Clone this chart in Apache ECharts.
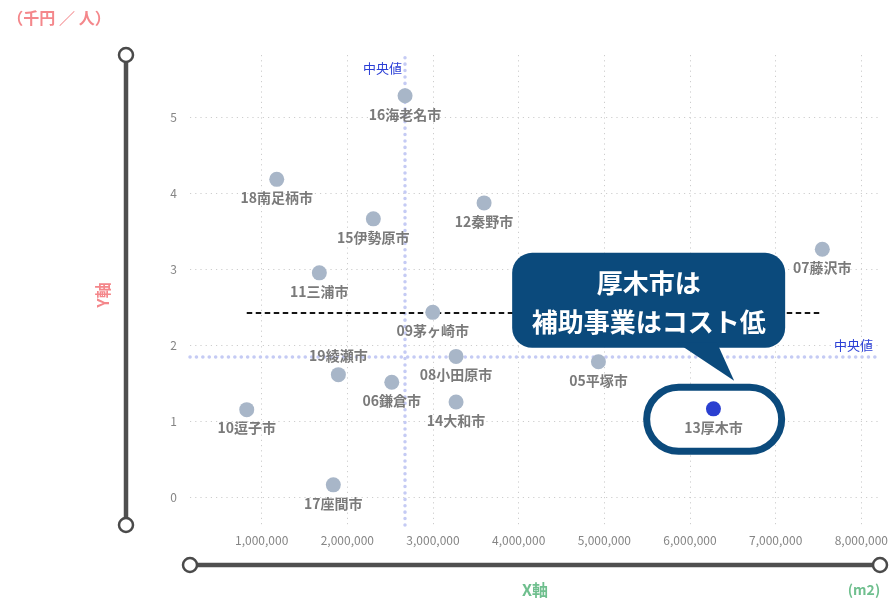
<!DOCTYPE html>
<html><head><meta charset="utf-8">
<script src="https://cdn.jsdelivr.net/npm/echarts@6/dist/echarts.min.js"></script>
<style>html,body{margin:0;padding:0;background:#fff}#c{width:891px;height:599px}</style>
</head><body><div id="c"></div>
<script>
// ---- data ----
const cities  = ['05平塚市','06鎌倉市','07藤沢市','08小田原市','09茅ヶ崎市','10逗子市','11三浦市','12秦野市','13厚木市','14大和市','15伊勢原市','16海老名市','17座間市','18南足柄市','19綾瀬市'];
const xValues = [4928000, 2517000, 7540000, 3267000, 2995000, 825000, 1672000, 3594000, 6270000, 3267000, 2302000, 2672000, 1835000, 1175000, 1894000];
const yValues = [1.78, 1.51, 3.26, 1.85, 2.43, 1.15, 2.95, 3.87, 1.16, 1.25, 3.66, 5.28, 0.16, 4.18, 1.61];
const labelAbove = ['19綾瀬市'];
const highlightCity = '13厚木市';
const medianX = 2672000;
const medianY = 1.85;
const referenceY = 2.42;
const xRange = [163000, 8213000];
const yRange = [-0.368, 5.816];
const xTickRange = [0, 8000000, 1000000];
const yTickRange = [0, 5, 1];
const medianLabel = '中央値';
const calloutText = '厚木市は\n補助事業はコスト低';
const yUnit = '（千円 ／ 人）';
const xUnit = '(m2)';
const xName = 'X軸';
const yName = 'Y軸';

const FONT = '"Noto Sans CJK JP", "Noto Sans", sans-serif';
const pointData = cities.map((c, i) => ({
  name: c,
  value: [xValues[i], yValues[i]],
  itemStyle: { color: c === highlightCity ? '#2a3fd0' : '#a8b6c8', opacity: 1 },
  label: labelAbove.includes(c) ? { position: 'top' } : undefined
}));
const refData = [[Math.min(...xValues), referenceY], [Math.max(...xValues), referenceY]];

const chart = echarts.init(document.getElementById('c'), null, { renderer: 'canvas' });
const dotted = { color: '#cdcdcd', width: 1, type: [1.2, 4] };

chart.setOption({
  animation: false,
  textStyle: { fontFamily: FONT },
  grid: [
    { left: 190, right: 11, top: 55, bottom: 74 },   // data grid
    { left: 176, right: 29, top: 55, bottom: 74 },   // x ticks / vertical grid
    { left: 190, right: 11, top: 117, bottom: 102 }  // y ticks / horizontal grid
  ],
  xAxis: [
    { gridIndex: 0, type: 'value', min: xRange[0], max: xRange[1], show: false },
    { gridIndex: 1, type: 'value', min: xTickRange[0], max: xTickRange[1], interval: xTickRange[2],
      axisLine: { show: false }, axisTick: { show: false },
      splitLine: { show: true, showMinLine: false, showMaxLine: true, lineStyle: dotted },
      axisLabel: { color: '#858585', fontSize: 12, margin: 9, showMinLabel: false, showMaxLabel: true,
        formatter: v => v === 0 ? '' : v.toLocaleString('en-US') } },
    { gridIndex: 2, type: 'value', show: false }
  ],
  yAxis: [
    { gridIndex: 0, type: 'value', min: yRange[0], max: yRange[1], show: false },
    { gridIndex: 1, type: 'value', show: false },
    { gridIndex: 2, type: 'value', min: yTickRange[0], max: yTickRange[1], interval: yTickRange[2],
      axisLine: { show: false }, axisTick: { show: false },
      splitLine: { show: true, lineStyle: dotted },
      axisLabel: { color: '#858585', fontSize: 12, margin: 13 } }
  ],
  series: [
    {
      type: 'line', xAxisIndex: 0, yAxisIndex: 0, data: refData, symbol: 'none', silent: true,
      lineStyle: { color: '#151515', width: 2, type: [5.5, 3.5] }, z: 2,
      markLine: {
        z: 2, silent: true, symbol: 'none', animation: false,
        label: { show: false },
        lineStyle: { color: '#c5cbf4', width: 3.5, type: [0.1, 6.3], cap: 'round' },
        data: [{ xAxis: medianX }, { yAxis: medianY }]
      },
      markPoint: {
        z: 2, silent: true, symbol: 'circle', symbolSize: 0,
        data: [
          { coord: [medianX, yRange[1]], label: { show: true, formatter: medianLabel, position: 'left', distance: 3, offset: [0, 13], color: '#2b3fd6', fontSize: 13 } },
          { coord: [xRange[1], medianY], label: { show: true, formatter: medianLabel, position: 'left', distance: 7, offset: [0, -11], color: '#2b3fd6', fontSize: 13 } }
        ]
      }
    },
    {
      type: 'scatter', xAxisIndex: 0, yAxisIndex: 0, data: pointData, symbolSize: 15, z: 3,
      emphasis: { disabled: true },
      label: { show: true, position: 'bottom', distance: 4, formatter: p => p.name,
        color: '#7a7a7a', fontSize: 14, fontWeight: 'bold', fontFamily: FONT }
    }
  ]
});

const hi = cities.indexOf(highlightCity);
const p = chart.convertToPixel({ gridIndex: 0 }, [xValues[hi], yValues[hi]]);
const px = p[0], py = p[1];

chart.setOption({
  graphic: [
    // Y axis decoration
    { type: 'line', z: 5, shape: { x1: 126, y1: 55, x2: 126, y2: 525 }, style: { stroke: '#4f4f4f', lineWidth: 4.5 } },
    { type: 'circle', z: 6, shape: { cx: 126, cy: 55, r: 7 }, style: { fill: '#fff', stroke: '#4a4a4a', lineWidth: 2.5 } },
    { type: 'circle', z: 6, shape: { cx: 126, cy: 525, r: 7 }, style: { fill: '#fff', stroke: '#4a4a4a', lineWidth: 2.5 } },
    // X axis decoration
    { type: 'line', z: 5, shape: { x1: 190, y1: 565, x2: 880, y2: 565 }, style: { stroke: '#4f4f4f', lineWidth: 4.5 } },
    { type: 'circle', z: 6, shape: { cx: 190, cy: 565, r: 7 }, style: { fill: '#fff', stroke: '#4a4a4a', lineWidth: 2.5 } },
    { type: 'circle', z: 6, shape: { cx: 880, cy: 565, r: 7 }, style: { fill: '#fff', stroke: '#4a4a4a', lineWidth: 2.5 } },
    // axis names / units
    { type: 'text', z: 6, x: 59, y: 18, style: { text: yUnit, fill: '#f4878b', font: 'bold 16px ' + FONT, textAlign: 'center', textVerticalAlign: 'middle' } },
    { type: 'text', z: 6, x: 103, y: 295, rotation: Math.PI / 2, style: { text: yName, fill: '#f4878b', font: 'bold 16px ' + FONT, textAlign: 'center', textVerticalAlign: 'middle' } },
    { type: 'text', z: 6, x: 535, y: 590, style: { text: xName, fill: '#6fbf8e', font: 'bold 16px ' + FONT, textAlign: 'center', textVerticalAlign: 'middle' } },
    { type: 'text', z: 6, x: 864, y: 590, style: { text: xUnit, fill: '#6fbf8e', font: 'bold 14px ' + FONT, textAlign: 'center', textVerticalAlign: 'middle' } },
    // stadium around highlighted point (under the series)
    { type: 'rect', z: 1, shape: { x: px - 66.8, y: py - 21.5, width: 135, height: 64, r: 32 },
      style: { fill: '#fff', stroke: '#0b4a7c', lineWidth: 7 } },
    // callout
    { type: 'rect', z: 10, shape: { x: px - 201.3, y: py - 156, width: 273, height: 95, r: 20 }, style: { fill: '#0b4a7c' } },
    { type: 'polygon', z: 10, shape: { points: [[px - 36.5, py - 66], [px + 3.5, py - 66], [px + 20.7, py - 28]] }, style: { fill: '#0b4a7c' } },
    { type: 'text', z: 11, x: px - 64.8, y: py - 106.5, style: { text: calloutText, fill: '#fff', font: 'bold 26px ' + FONT, lineHeight: 39, textAlign: 'center', textVerticalAlign: 'middle' } }
  ]
});
</script>
</body></html>
